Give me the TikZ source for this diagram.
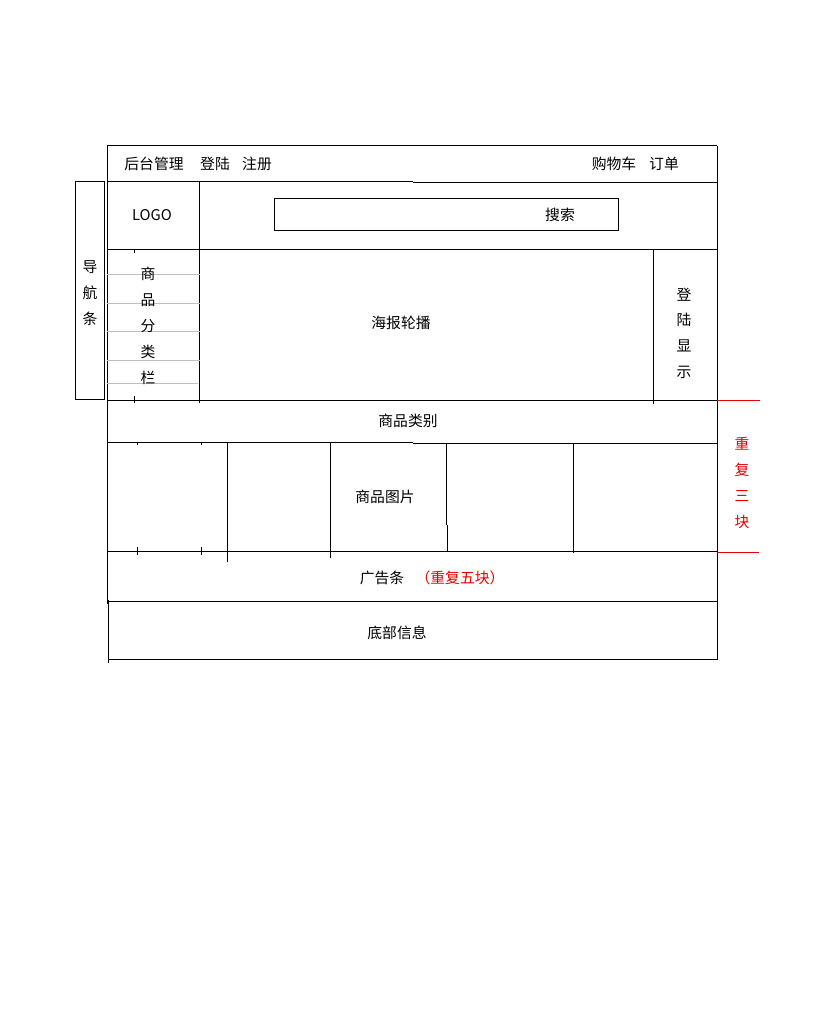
\documentclass[tikz,border=0pt]{standalone}
\usepackage{fontspec}
\setmainfont{Noto Sans CJK SC}
\newfontfamily\cjk{Noto Sans CJK SC}
\begin{document}
\begin{tikzpicture}[x=1pt,y=-1pt,
  ln/.style={line width=1pt,black},
  gl/.style={line width=0.9pt,black!25},
  rl/.style={line width=1pt,red!90!black},
  tx/.style={font=\cjk\fontsize{14.8}{15}\selectfont,inner sep=0pt},
  rt/.style={tx,text=red!90!black}]
\useasboundingbox (0,0) rectangle (819,1024);
% outer frame
\draw[ln] (107,146) -- (717,146);
\draw[ln] (107,182) -- (413,182) (413,183) -- (717,183);
\draw[ln] (107,146) -- (107,604);
\draw[ln] (108,600) -- (108,663);
\draw[ln] (717,146) -- (717,660);
% nav bar
\draw[ln] (75,182) rectangle (104,399);
% logo cell
\draw[ln] (199,182) -- (199,403);
\draw[ln] (274,199) rectangle (618,231);
\draw[ln] (107,249) -- (717,249);
\draw[ln] (653,249) -- (653,404);
\draw[ln] (134,249) -- (134,253) (134,396) -- (134,403);
% category gray lines
\foreach \y in {274,303,331,360} \draw[gl] (107,\y) -- (200,\y);
\draw[gl] (107,383) -- (198,383);
% category row
\draw[ln] (107,400) -- (717,400);
\draw[rl] (717,400) -- (760,400);
\draw[ln] (107,442) -- (413,442) (413,443) -- (717,443);
\draw[ln] (137,442) -- (137,445) (201,442) -- (201,445);
% product columns
\draw[ln] (227,442) -- (227,562);
\draw[ln] (330,442) -- (330,558);
\draw[ln] (446,443) -- (446,525) (447,525) -- (447,551);
\draw[ln] (573,444) -- (573,553);
\draw[ln] (107,551) -- (717,551);
\draw[rl] (717,552) -- (759,552);
\draw[ln] (137,547) -- (137,555) (201,547) -- (201,555);
% ad bar and footer
\draw[ln] (107,601) -- (717,601);
\draw[ln] (108,659) -- (717,659);
% texts
\node[tx] (t1) at (154,164) {后台管理};
\node[tx] (t2) at (215,164) {登陆};
\node[tx] (t3) at (257,164) {注册};
\node[tx] (t4) at (614,164) {购物车};
\node[tx] (t5) at (664,164) {订单};
\node[tx] (logo) at (152,215) {LOGO};
\node[tx] (search) at (560,215) {搜索};
\node[tx] (n1) at (90,267) {导};
\node[tx] (n2) at (90,293) {航};
\node[tx] (n3) at (90,319) {条};
\node[tx] (c1) at (148,274) {商};
\node[tx] (c2) at (148,300) {品};
\node[tx] (c3) at (148,326) {分};
\node[tx] (c4) at (148,352) {类};
\node[tx] (c5) at (148,378) {栏};
\node[tx] (poster) at (401,323) {海报轮播};
\node[tx] (d1) at (684,295) {登};
\node[tx] (d2) at (684,320) {陆};
\node[tx] (d3) at (684,346) {显};
\node[tx] (d4) at (684,372) {示};
\node[tx] (cat) at (408,421) {商品类别};
\node[tx] (pic) at (385,497) {商品图片};
\node[rt] (r1) at (742,444) {重};
\node[rt] (r2) at (742,470) {复};
\node[rt] (r3) at (742,496) {三};
\node[rt] (r4) at (742,522) {块};
\node[tx] (ad) at (382,578) {广告条};
\node[rt] (ad2) at (460,578) {（重复五块）};
\node[tx] (foot) at (397,633) {底部信息};
\end{tikzpicture}
\end{document}
